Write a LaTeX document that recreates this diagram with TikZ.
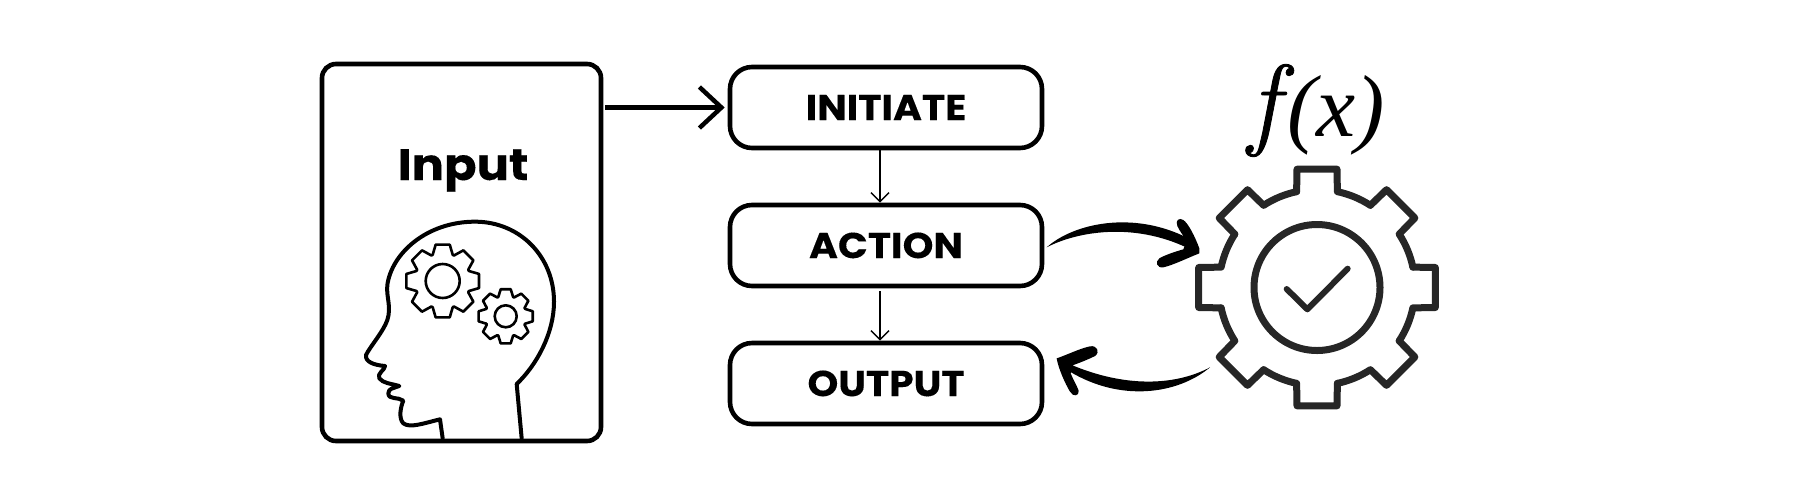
\documentclass[tikz,border=0pt]{standalone}
\usepackage{fontspec}
\setmainfont{Poppins}[BoldFeatures={FakeBold=0.2,FakeStretch=1.09}]
\newfontfamily\funcfont{Latin Modern Roman}[ItalicFeatures={FakeBold=0.8}]
\newfontfamily\argfont{Liberation Serif}
\usetikzlibrary{arrows.meta}
\definecolor{geardark}{HTML}{262626}
\tikzset{
  flowbox/.style={draw=black,line width=2.3pt,rounded corners=11pt,minimum width=156pt,minimum height=40.5pt,inner sep=0pt,
    font=\fontsize{18pt}{18pt}\selectfont\bfseries,text height=12.6pt,text depth=0pt},
  inbox/.style={draw=black,line width=2.3pt,rounded corners=7pt,minimum width=139.5pt,minimum height=188.5pt,inner sep=0pt},
  thickarrow/.style={line width=2.25pt,-{Straight Barb[length=11pt,width=20.5pt,line width=2.25pt]}},
  thinarrow/.style={line width=0.75pt,-{Straight Barb[length=4.5pt,width=9pt,line width=0.75pt]}},
  gearline/.style={draw=geardark,line width=3.5pt,line cap=round,line join=round},
  headline/.style={line width=2pt,line join=round,line cap=round},
  cogline/.style={line width=1.3pt,line join=round,line cap=round},
}
\begin{document}
\begin{tikzpicture}[x=0.5pt,y=-0.5pt]
\useasboundingbox (0,0) rectangle (1800,500);
% boxes
\node[inbox] (input) at (461.5,252.5) {};
\node[flowbox] (initiate) at (886,107.5) {INITIATE};
\node[flowbox] (action) at (886,245.5) {ACTION};
\node[flowbox] (output) at (886,383.5) {OUTPUT};
\node[anchor=base,inner sep=0pt,font=\fontsize{22pt}{22pt}\selectfont\bfseries] (inputlabel) at (463,180) {Input};
% connectors
\draw[thickarrow,shorten >=1.5pt,shorten <=1pt] (input.east |- initiate.west) -- (initiate.west);
\draw[thinarrow] ([xshift=-3pt]initiate.south) -- ([xshift=-3pt]action.north);
\draw[thinarrow,shorten <=1.5pt] ([xshift=-3pt]action.south) -- ([xshift=-3pt]output.north);
% head
\begin{scope}[shift={(360,210)},x=0.16667pt,y=-0.16667pt]
\draw[headline] (485,685) -- (470,522) .. controls (530,465) and (582,370) .. (582,275)
  .. controls (582,140) and (480,35) .. (345,35)
  .. controls (200,35) and (95,130) .. (82,225)
  .. controls (78,260) and (95,290) .. (82,330)
  .. controls (70,365) and (30,410) .. (18,435)
  .. controls (15,455) and (40,465) .. (75,468)
  .. controls (75,480) and (50,490) .. (58,505)
  .. controls (70,520) and (90,520) .. (118,528)
  .. controls (100,535) and (85,535) .. (85,550)
  .. controls (85,570) and (115,560) .. (130,572)
  .. controls (122,590) and (115,625) .. (130,640)
  .. controls (150,655) and (190,640) .. (240,628) -- (248,685);
\end{scope}
% small cogs
\begin{scope}[shift={(442.7,281)}]
\foreach \a in {0,45,...,315}
  \draw[cogline] (\a-21:28) -- (\a-11:37) -- (\a+11:37) -- (\a+21:28) arc[start angle=\a+21,end angle=\a+24,radius=28];
\draw[cogline] (0,0) circle[radius=17];
\end{scope}
\begin{scope}[shift={(505.7,316.3)}]
\foreach \a in {0,45,...,315}
  \draw[cogline] (\a-21:20.7) -- (\a-10.5:27.5) -- (\a+10.5:27.5) -- (\a+21:20.7) arc[start angle=\a+21,end angle=\a+24,radius=20.7];
\draw[cogline] (0,0) circle[radius=11];
\end{scope}
% f(x)
\node[anchor=base west,inner sep=0pt] (fx) at (1248,136) {\funcfont\itshape\fontsize{51pt}{56pt}\selectfont f\kern4pt\argfont\itshape\fontsize{44pt}{50pt}\selectfont (x)};
% big gear
\coordinate (gearcentre) at (1317,287.5);
\begin{scope}[shift={(1317,287.5)}]
\foreach \a in {0,45,...,315}
  \draw[gearline] (\a-12:98) -- (\a-9.6:120) -- (\a+9.6:120) -- (\a+12:98) arc[start angle=\a+12,end angle=\a+33,radius=98];
\draw[gearline] (0,0) circle[radius=63];
\end{scope}
\begin{scope}[shift={(1040,40)},x=0.16667pt,y=-0.16667pt]
\draw[gearline,line width=3pt] (740,747) -- (802,808) -- (923,686);
% curved arrows
\coordinate (p1) at (20,622);
\coordinate (p2) at (445,595);
\coordinate (p3) at (445,625);
\fill (p1) .. controls (100,550) and (280,510) .. (p2) -- (p3) .. controls (280,545) and (110,575) .. (p1) -- cycle;
\fill (478,625) .. controls (465,590) and (445,550) .. (430,540) .. controls (418,532) and (405,540) .. (412,558)
  .. controls (420,575) and (432,590) .. (440,603) -- (430,628) .. controls (405,635) and (375,645) .. (358,655)
  .. controls (345,665) and (350,685) .. (370,682) .. controls (400,675) and (440,655) .. (478,640) -- cycle;
\coordinate (q1) at (510,982);
\coordinate (q2) at (95,975);
\coordinate (q3) at (90,995);
\fill (q1) .. controls (400,1040) and (250,1040) .. (q2) -- (q3) .. controls (240,1085) and (410,1065) .. (q1) -- cycle;
\fill (50,955) .. controls (80,945) and (120,925) .. (150,919) .. controls (170,915) and (182,935) .. (165,948)
  .. controls (145,958) and (120,968) .. (100,975) -- (92,1000) .. controls (100,1020) and (112,1040) .. (116,1052)
  .. controls (118,1068) and (100,1072) .. (90,1055) .. controls (75,1030) and (55,985) .. (50,955) -- cycle;
\end{scope}
\end{tikzpicture}
\end{document}
